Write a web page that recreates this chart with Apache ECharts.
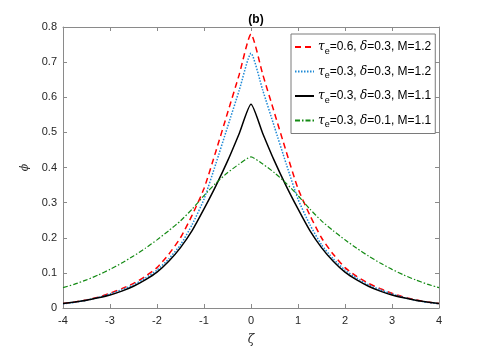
<!DOCTYPE html>
<html>
<head>
<meta charset="utf-8">
<script src="https://cdn.jsdelivr.net/npm/echarts@6/dist/echarts.min.js"></script>
<style>html,body{margin:0;padding:0;background:#fff}#c{width:485px;height:346px}</style>
</head>
<body>
<div id="c"></div>
<script>
const zeta = [-4,-3.75,-3.5,-3.25,-3,-2.75,-2.5,-2.25,-2,-1.75,-1.5,-1.25,-1,-0.75,-0.5,-0.25,0,
              0.25,0.5,0.75,1,1.25,1.5,1.75,2,2.25,2.5,2.75,3,3.25,3.5,3.75,4];
const phiRed = [0.013,0.017,0.023,0.031,0.042,0.055,0.070,0.090,0.115,0.153,0.200,0.265,0.340,0.445,0.555,0.665,0.780,
                0.665,0.555,0.445,0.340,0.265,0.200,0.153,0.115,0.090,0.070,0.055,0.042,0.031,0.023,0.017,0.013];
const phiBlue = [0.012,0.016,0.022,0.030,0.040,0.052,0.066,0.085,0.108,0.140,0.180,0.238,0.310,0.410,0.515,0.620,0.725,
                 0.620,0.515,0.410,0.310,0.238,0.180,0.140,0.108,0.085,0.066,0.052,0.040,0.030,0.022,0.016,0.012];
const phiBlack = [0.013,0.017,0.022,0.029,0.037,0.048,0.062,0.080,0.102,0.133,0.172,0.221,0.282,0.347,0.418,0.497,0.580,
                  0.497,0.418,0.347,0.282,0.221,0.172,0.133,0.102,0.080,0.062,0.048,0.037,0.029,0.022,0.017,0.013];
const phiGreen = [0.058,0.068,0.080,0.094,0.110,0.128,0.148,0.170,0.194,0.220,0.248,0.282,0.320,0.355,0.385,0.410,0.430,
                  0.410,0.385,0.355,0.320,0.282,0.248,0.220,0.194,0.170,0.148,0.128,0.110,0.094,0.080,0.068,0.058];
const seriesNames = ['s1','s2','s3','s4'];
const legendLabels = {
  s1: '{t|τ}{s|e}=0.6, {d|δ}=0.3, M=1.2',
  s2: '{t|τ}{s|e}=0.3, {d|δ}=0.3, M=1.2',
  s3: '{t|τ}{s|e}=0.3, {d|δ}=0.3, M=1.1',
  s4: '{t|τ}{s|e}=0.3, {d|δ}=0.1, M=1.1'
};
const xTicks = [-4,-3,-2,-1,0,1,2,3,4];

function pairs(ys){ return zeta.map((x,i)=>[x,ys[i]]); }

const chart = echarts.init(document.getElementById('c'), null, {renderer:'canvas'});
const axisColor = '#8a8a8a';
const labelColor = '#262626';
const font = 'Liberation Sans, Arial, Helvetica, sans-serif';
const baseAxis = {
  axisLine:{show:true, onZero:false, lineStyle:{color:axisColor, width:1}},
  axisTick:{show:true, inside:true, length:4, lineStyle:{color:axisColor}},
  splitLine:{show:false}
};
chart.setOption({
  animation:false,
  backgroundColor:'#fff',
  title:{text:'(b)', left:251, top:9, textAlign:'center',
    textStyle:{fontFamily:font, fontSize:12, fontWeight:'bold', color:'#000'}},
  grid:{left:63, right:46, top:27, bottom:38, show:false, containLabel:false, outerBoundsMode:'none'},
  legend:{
    data:seriesNames, orient:'vertical', left:291, top:34,
    padding:[4,4,4,3], itemGap:6.5, itemWidth:19, itemHeight:12,
    backgroundColor:'#fff', borderColor:'#7a7a7a', borderWidth:1, borderRadius:0,
    itemStyle:{opacity:0},
    formatter: n => legendLabels[n],
    textStyle:{fontFamily:font, fontSize:12, lineHeight:12, color:'#000', padding:[0,0,0,-1],
      rich:{
        t:{fontFamily:'DejaVu Serif, serif', fontStyle:'italic', fontSize:12, lineHeight:12, color:'#000'},
        s:{fontFamily:font, fontSize:9, lineHeight:12, color:'#000', padding:[9,0,0,0]},
        d:{fontFamily:'DejaVu Serif, serif', fontStyle:'italic', fontSize:12, lineHeight:12, color:'#000'}
      }}
  },
  xAxis:[
    Object.assign({type:'value', min:-4, max:4, interval:1, position:'bottom',
      name:'ζ', nameLocation:'middle', nameGap:26,
      nameTextStyle:{fontFamily:'DejaVu Serif, serif', fontStyle:'italic', fontSize:12, color:labelColor},
      axisLabel:{fontFamily:font, fontSize:11, color:labelColor, margin:7,
        formatter: v => xTicks.includes(v) ? String(v) : ''}}, baseAxis),
    Object.assign({type:'value', min:-4, max:4, interval:1, position:'top',
      axisLabel:{show:false}}, baseAxis)
  ],
  yAxis:[
    Object.assign({type:'value', min:0, max:0.8, interval:0.1, position:'left',
      name:'ϕ', nameLocation:'middle', nameGap:21, nameRotate:90,
      nameTextStyle:{fontFamily:'DejaVu Serif, serif', fontStyle:'italic', fontSize:11, color:labelColor},
      axisLabel:{fontFamily:font, fontSize:11, color:labelColor, margin:6,
        formatter: v => String(Math.round(v*10)/10)}}, baseAxis),
    Object.assign({type:'value', min:0, max:0.8, interval:0.1, position:'right',
      axisLabel:{show:false}}, baseAxis)
  ],
  series:[
    {name:'s1', type:'line', data:pairs(phiRed), symbol:'none', smooth:0.2, color:'#ff0000',
      lineStyle:{color:'#ff0000', width:1.5, type:[6,4]}},
    {name:'s2', type:'line', data:pairs(phiBlue), symbol:'none', smooth:0.2, color:'#1f8ad6',
      lineStyle:{color:'#1f8ad6', width:1.5, type:[1.5,1.5]}},
    {name:'s3', type:'line', data:pairs(phiBlack), symbol:'none', smooth:0.2, color:'#000',
      lineStyle:{color:'#000', width:1.5, type:'solid'}},
    {name:'s4', type:'line', data:pairs(phiGreen), symbol:'none', smooth:0.2, color:'#138a13',
      lineStyle:{color:'#138a13', width:1.2, type:[5,2,1.5,2]}}
  ]
});
</script>
</body>
</html>
